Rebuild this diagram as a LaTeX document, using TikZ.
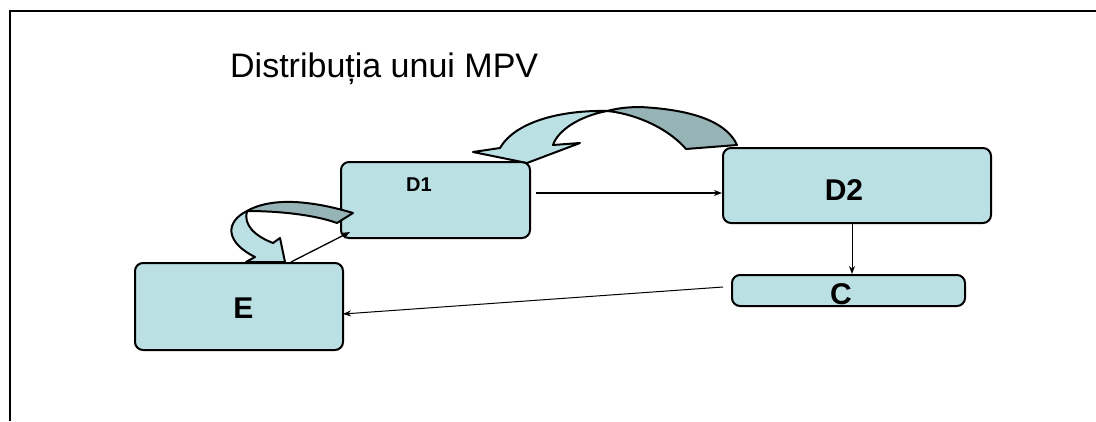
\documentclass[tikz,border=0pt]{standalone}
\usepackage{fontspec}
\setmainfont{Liberation Sans}
\usetikzlibrary{arrows.meta}
\definecolor{boxfill}{RGB}{187,224,227}
\definecolor{backfill}{RGB}{150,179,181}
\tikzset{
  stagebox/.style={draw=black, line width=2pt, fill=boxfill, rounded corners=8pt, inner sep=0pt},
  stagelabel/.style={font=\bfseries\fontsize{30}{30}\selectfont, inner sep=0pt},
  flow/.style={draw=black, line width=1pt, -{Stealth[length=8pt,width=6pt]}},
  bendfront/.style={fill=boxfill, line width=2pt, line join=round},
  bendback/.style={fill=backfill, line width=2pt, line join=round}
}
\begin{document}
\begin{tikzpicture}[x=1pt, y=-1pt]
\useasboundingbox (0,0) rectangle (1096,421);
\fill[white] (0,0) rectangle (1096,421);

% page frame
\draw[line width=2pt] (10,421) -- (10,11) -- (1096,11);

% title
\node[anchor=base west, inner sep=0pt, font=\fontsize{34}{34}\selectfont] (title) at (230,77.5) {Distribuția unui MPV};

% stages
\node[stagebox, minimum width=189pt, minimum height=76pt] (d1) at (435.5,200) {};
\node[stagebox, minimum width=268pt, minimum height=75pt] (d2) at (857,185.5) {};
\node[stagebox, minimum width=233pt, minimum height=31pt] (c) at (848.5,290.5) {};
\node[stagebox, minimum width=208pt, minimum height=87pt] (e) at (239,306.5) {};

\node[stagelabel, font=\bfseries\fontsize{20}{20}\selectfont] (d1lab) at (419,185) {D1};
\node[stagelabel] (d2lab) at (844,190.5) {D2};
\node[stagelabel] (clab) at (841,294) {C};
\node[stagelabel] (elab) at (243.5,308.5) {E};

% straight connectors
\coordinate (d1out) at (536,193);
\draw[flow, line width=1.5pt] (d1out) -- (d1out -| d2.west);
\draw[flow] ([xshift=-5pt]d2.south) -- ([xshift=-5pt]d2.south |- c.north);
\coordinate (cout) at (723,287);
\coordinate (ein) at (343,314);
\draw[flow] (cout) -- (ein);
\coordinate (eout) at (291,262);
\coordinate (d1in) at (350,232);
\draw[flow, line width=1.3pt] (eout) -- (d1in);

% large curved arrow from D2 back to D1
\filldraw[bendback] (737,145) .. controls (728,125) and (700,110) .. (640,107)
  .. controls (625,107) and (615,109) .. (607,111)
  .. controls (630,113) and (665,125) .. (686,149) -- cycle;
\filldraw[bendfront] (607,111) .. controls (560,110) and (515,122) .. (500,148)
  -- (473,152) -- (527,163) -- (580,143) -- (553,145)
  .. controls (558,130) and (580,116) .. (607,111) -- cycle;

% small curved arrow from D1 back to E
\filldraw[bendback] (353,213) .. controls (320,203) and (275,195) .. (247,211)
  .. controls (280,211) and (315,215) .. (337,223) -- cycle;
\filldraw[bendfront] (247,211) .. controls (225,222) and (225,242) .. (255,257)
  -- (246,262) -- (285,262) -- (280,238) -- (273,243)
  .. controls (255,236) and (243,225) .. (247,211) -- cycle;
\end{tikzpicture}
\end{document}
